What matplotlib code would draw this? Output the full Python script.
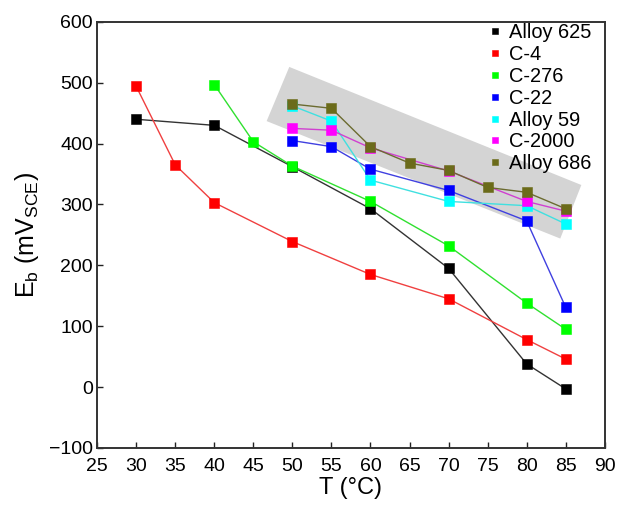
import matplotlib.pyplot as plt
from matplotlib.patches import Polygon

plt.rcParams['font.family'] = ['Liberation Sans', 'DejaVu Sans']
plt.rcParams['mathtext.fontset'] = 'custom'
plt.rcParams['mathtext.rm'] = 'Liberation Sans'
plt.rcParams['mathtext.it'] = 'Liberation Sans'

# breakdown potential (mV vs SCE) against temperature for each alloy
t_625 = [30, 40, 50, 60, 70, 80, 85]
eb_625 = [440, 430, 362, 293, 195, 38, -3]

t_c4 = [30, 35, 40, 50, 60, 70, 80, 85]
eb_c4 = [494, 365, 303, 239, 185, 145, 78, 46]

t_c276 = [40, 45, 50, 60, 70, 80, 85]
eb_c276 = [497, 403, 363, 305, 232, 138, 95]

t_c22 = [50, 55, 60, 70, 80, 85]
eb_c22 = [405, 395, 358, 323, 273, 131]

t_59 = [50, 55, 60, 70, 80, 85]
eb_59 = [462, 437, 340, 305, 298, 268]

t_c2000 = [50, 55, 60, 70, 80, 85]
eb_c2000 = [425, 422, 393, 355, 305, 289]

t_686 = [50, 55, 60, 65, 70, 75, 80, 85]
eb_686 = [465, 458, 395, 368, 356, 328, 320, 293]

# shaded band around the high-alloy group
band_t = [49.6, 87.0, 84.3, 46.7]
band_eb = [526, 332, 244, 437]

series = [
    ('Alloy 625', t_625, eb_625, '#000000', '#333333'),
    ('C-4', t_c4, eb_c4, '#ff0000', '#f04040'),
    ('C-276', t_c276, eb_c276, '#00ff00', '#30e030'),
    ('C-22', t_c22, eb_c22, '#0000ff', '#4040e0'),
    ('Alloy 59', t_59, eb_59, '#00ffff', '#40e0e0'),
    ('C-2000', t_c2000, eb_c2000, '#ff00ff', '#d040d0'),
    ('Alloy 686', t_686, eb_686, '#6b6b1a', '#6b6b30'),
]

fig = plt.figure(figsize=(6.19, 5.09), dpi=100)
ax = fig.add_axes([0.157, 0.120, 0.820, 0.837])

ax.add_patch(Polygon(list(zip(band_t, band_eb)), closed=True,
                     facecolor='#d4d4d4', edgecolor='none', zorder=0))

for name, t, eb, mc, lc in series:
    ax.plot(t, eb, '-', color=lc, lw=1.0, zorder=2)
    ax.plot(t, eb, 's', color=mc, ms=6.5, mec=mc, mew=0.4, label=name,
            zorder=3, linestyle='none')

ax.set_xlim(25, 90)
ax.set_ylim(-100, 600)
ax.set_xticks(range(25, 91, 5))
ax.set_yticks(range(-100, 601, 100))
ax.set_yticklabels(['\u2212100'] + [str(v) for v in range(0, 601, 100)])
ax.tick_params(direction='in', length=4, width=1, labelsize=14,
               top=False, right=False, colors='#222222', labelcolor='black')
ax.tick_params(axis='x', pad=7)
ax.tick_params(axis='y', pad=3)
for s in ax.spines.values():
    s.set_linewidth(1.4)
    s.set_color('#333333')

ax.set_xlabel('T (\u00b0C)', fontsize=17, labelpad=2)
ax.set_ylabel(r'E$_\mathrm{b}$ (mV$_\mathrm{SCE}$)', fontsize=18, labelpad=6)

ax.legend(loc='upper right', frameon=False, fontsize=14.4, markerscale=0.7,
          handlelength=0.6, handletextpad=0.4, labelspacing=0.14,
          borderaxespad=0.0, bbox_to_anchor=(0.99, 1.015))

fig.savefig('out.png', dpi=100)
